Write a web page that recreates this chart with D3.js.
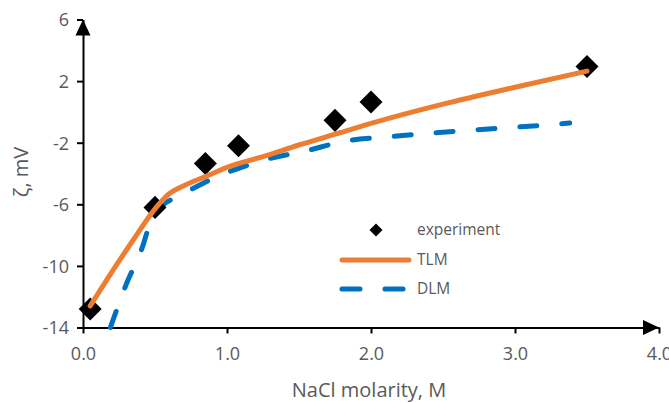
<!DOCTYPE html>
<html>
<head>
<meta charset="utf-8">
<script src="https://cdn.jsdelivr.net/npm/d3@7"></script>
<style>
  body { margin: 0; background: #fff; }
  text { font-family: "Open Sans", sans-serif; }
</style>
</head>
<body>
<div id="chart"></div>
<script>
// experiment points
const expX = [0.05, 0.5, 0.85, 1.08, 1.75, 2.0, 3.5];
const expY = [-12.8, -6.2, -3.35, -2.2, -0.55, 0.65, 2.95];
// TLM model curve
const tlmX = [0.05, 0.2, 0.35, 0.5, 0.6, 0.7, 0.85, 1.0, 1.25, 1.5, 1.75, 2.0, 2.5, 3.0, 3.5];
const tlmY = [-12.6, -10.4, -8.3, -6.3, -5.3, -4.8, -4.2, -3.6, -2.9, -2.15, -1.45, -0.75, 0.5, 1.6, 2.65];
// DLM model curve
const dlmX = [0.19, 0.24, 0.3, 0.41, 0.46, 0.5, 0.56, 0.66, 0.8, 0.93, 1.1, 1.25, 1.54, 1.83, 2.11, 2.4, 2.69, 2.99, 3.28, 3.38];
const dlmY = [-14, -12.7, -11.2, -8.85, -7.4, -6.6, -6.0, -5.5, -4.8, -4.2, -3.6, -3.14, -2.55, -1.88, -1.62, -1.39, -1.19, -1.0, -0.8, -0.72];
// ticks
const xTicks = [0, 1, 2, 3, 4];
const yTicks = [-14, -10, -6, -2, 2, 6];

const width = 669, height = 403;
const svg = d3.select('#chart').append('svg')
    .attr('width', width).attr('height', height);

const x = d3.scaleLinear([0, 4], [83, 659]);
const y = d3.scaleLinear([-14, 6], [327.5, 19.5]);

// axes
const xAxis = d3.axisBottom(x).tickValues(xTicks).tickFormat(d3.format('.1f'))
    .tickSizeInner(6).tickSizeOuter(0).tickPadding(14);
const yAxis = d3.axisLeft(y).tickValues(yTicks).tickFormat(d => d)
    .tickSizeInner(6).tickSizeOuter(0).tickPadding(8);

const gx = svg.append('g').attr('transform', `translate(0,${y(-14)})`).call(xAxis);
const gy = svg.append('g').attr('transform', `translate(${x(0)},0)`).call(yAxis);
[gx, gy].forEach(g => {
    g.select('.domain').attr('stroke', '#000').attr('stroke-width', 2);
    g.selectAll('.tick line').attr('stroke', '#000').attr('stroke-width', 2);
    g.selectAll('.tick text').attr('fill', '#595959')
        .style('font-size', '18px').style('font-family', '"Open Sans", sans-serif');
});
gy.selectAll('.tick text').attr('dy', '0.35em');

// arrow heads
svg.append('path')
    .attr('d', `M${x(0)},${y(6)} L${x(0) - 7.5},${y(6) + 16} L${x(0) + 7.5},${y(6) + 16} Z`)
    .attr('fill', '#000');
svg.append('path')
    .attr('d', `M${x(4)},${y(-14)} L${x(4) - 16},${y(-14) - 7.5} L${x(4) - 16},${y(-14) + 7.5} Z`)
    .attr('fill', '#000');

// axis titles
svg.append('text')
    .attr('x', 369).attr('y', 397)
    .attr('text-anchor', 'middle')
    .attr('fill', '#595959')
    .style('font-size', '20px')
    .text('NaCl molarity, M');
svg.append('text')
    .attr('transform', 'translate(28,172) rotate(-90)')
    .attr('text-anchor', 'middle')
    .attr('fill', '#595959')
    .style('font-size', '20px')
    .text('ζ, mV');

const line = d3.line().x(d => x(d[0])).y(d => y(d[1])).curve(d3.curveMonotoneX);
const tlm = tlmX.map((v, i) => [v, tlmY[i]]);
const dlm = dlmX.map((v, i) => [v, dlmY[i]]);
const exp = expX.map((v, i) => [v, expY[i]]);

// DLM dashed
svg.append('path').datum(dlm)
    .attr('d', line)
    .attr('fill', 'none')
    .attr('stroke', '#0070C0')
    .attr('stroke-width', 5)
    .attr('stroke-linecap', 'round')
    .attr('stroke-dasharray', '17,25');

// experiment diamonds (under TLM)
const diamond = d3.symbol().type(d3.symbolSquare).size(265);
svg.append('g').selectAll('path').data(exp).join('path')
    .attr('d', diamond)
    .attr('transform', d => `translate(${x(d[0])},${y(d[1])}) rotate(45)`)
    .attr('fill', '#000');

// TLM
svg.append('path').datum(tlm)
    .attr('d', line)
    .attr('fill', 'none')
    .attr('stroke', '#ED7D31')
    .attr('stroke-width', 5)
    .attr('stroke-linecap', 'round');

// legend
const lg = svg.append('g');
lg.append('path')
    .attr('d', d3.symbol().type(d3.symbolSquare).size(85))
    .attr('transform', 'translate(376,230) rotate(45)')
    .attr('fill', '#000');
lg.append('line')
    .attr('x1', 342).attr('x2', 409).attr('y1', 260).attr('y2', 260)
    .attr('stroke', '#ED7D31').attr('stroke-width', 5).attr('stroke-linecap', 'round');
lg.append('line')
    .attr('x1', 342).attr('x2', 409).attr('y1', 289).attr('y2', 289)
    .attr('stroke', '#0070C0').attr('stroke-width', 5).attr('stroke-linecap', 'round')
    .attr('stroke-dasharray', '18,25');
const labels = ['experiment', 'TLM', 'DLM'];
lg.selectAll('text.lab').data(labels).join('text')
    .attr('class', 'lab')
    .attr('x', 417)
    .attr('y', (d, i) => 230 + i * 29.5)
    .attr('dy', '0.35em')
    .attr('fill', '#595959')
    .style('font-size', '15.5px')
    .text(d => d);
</script>
</body>
</html>
